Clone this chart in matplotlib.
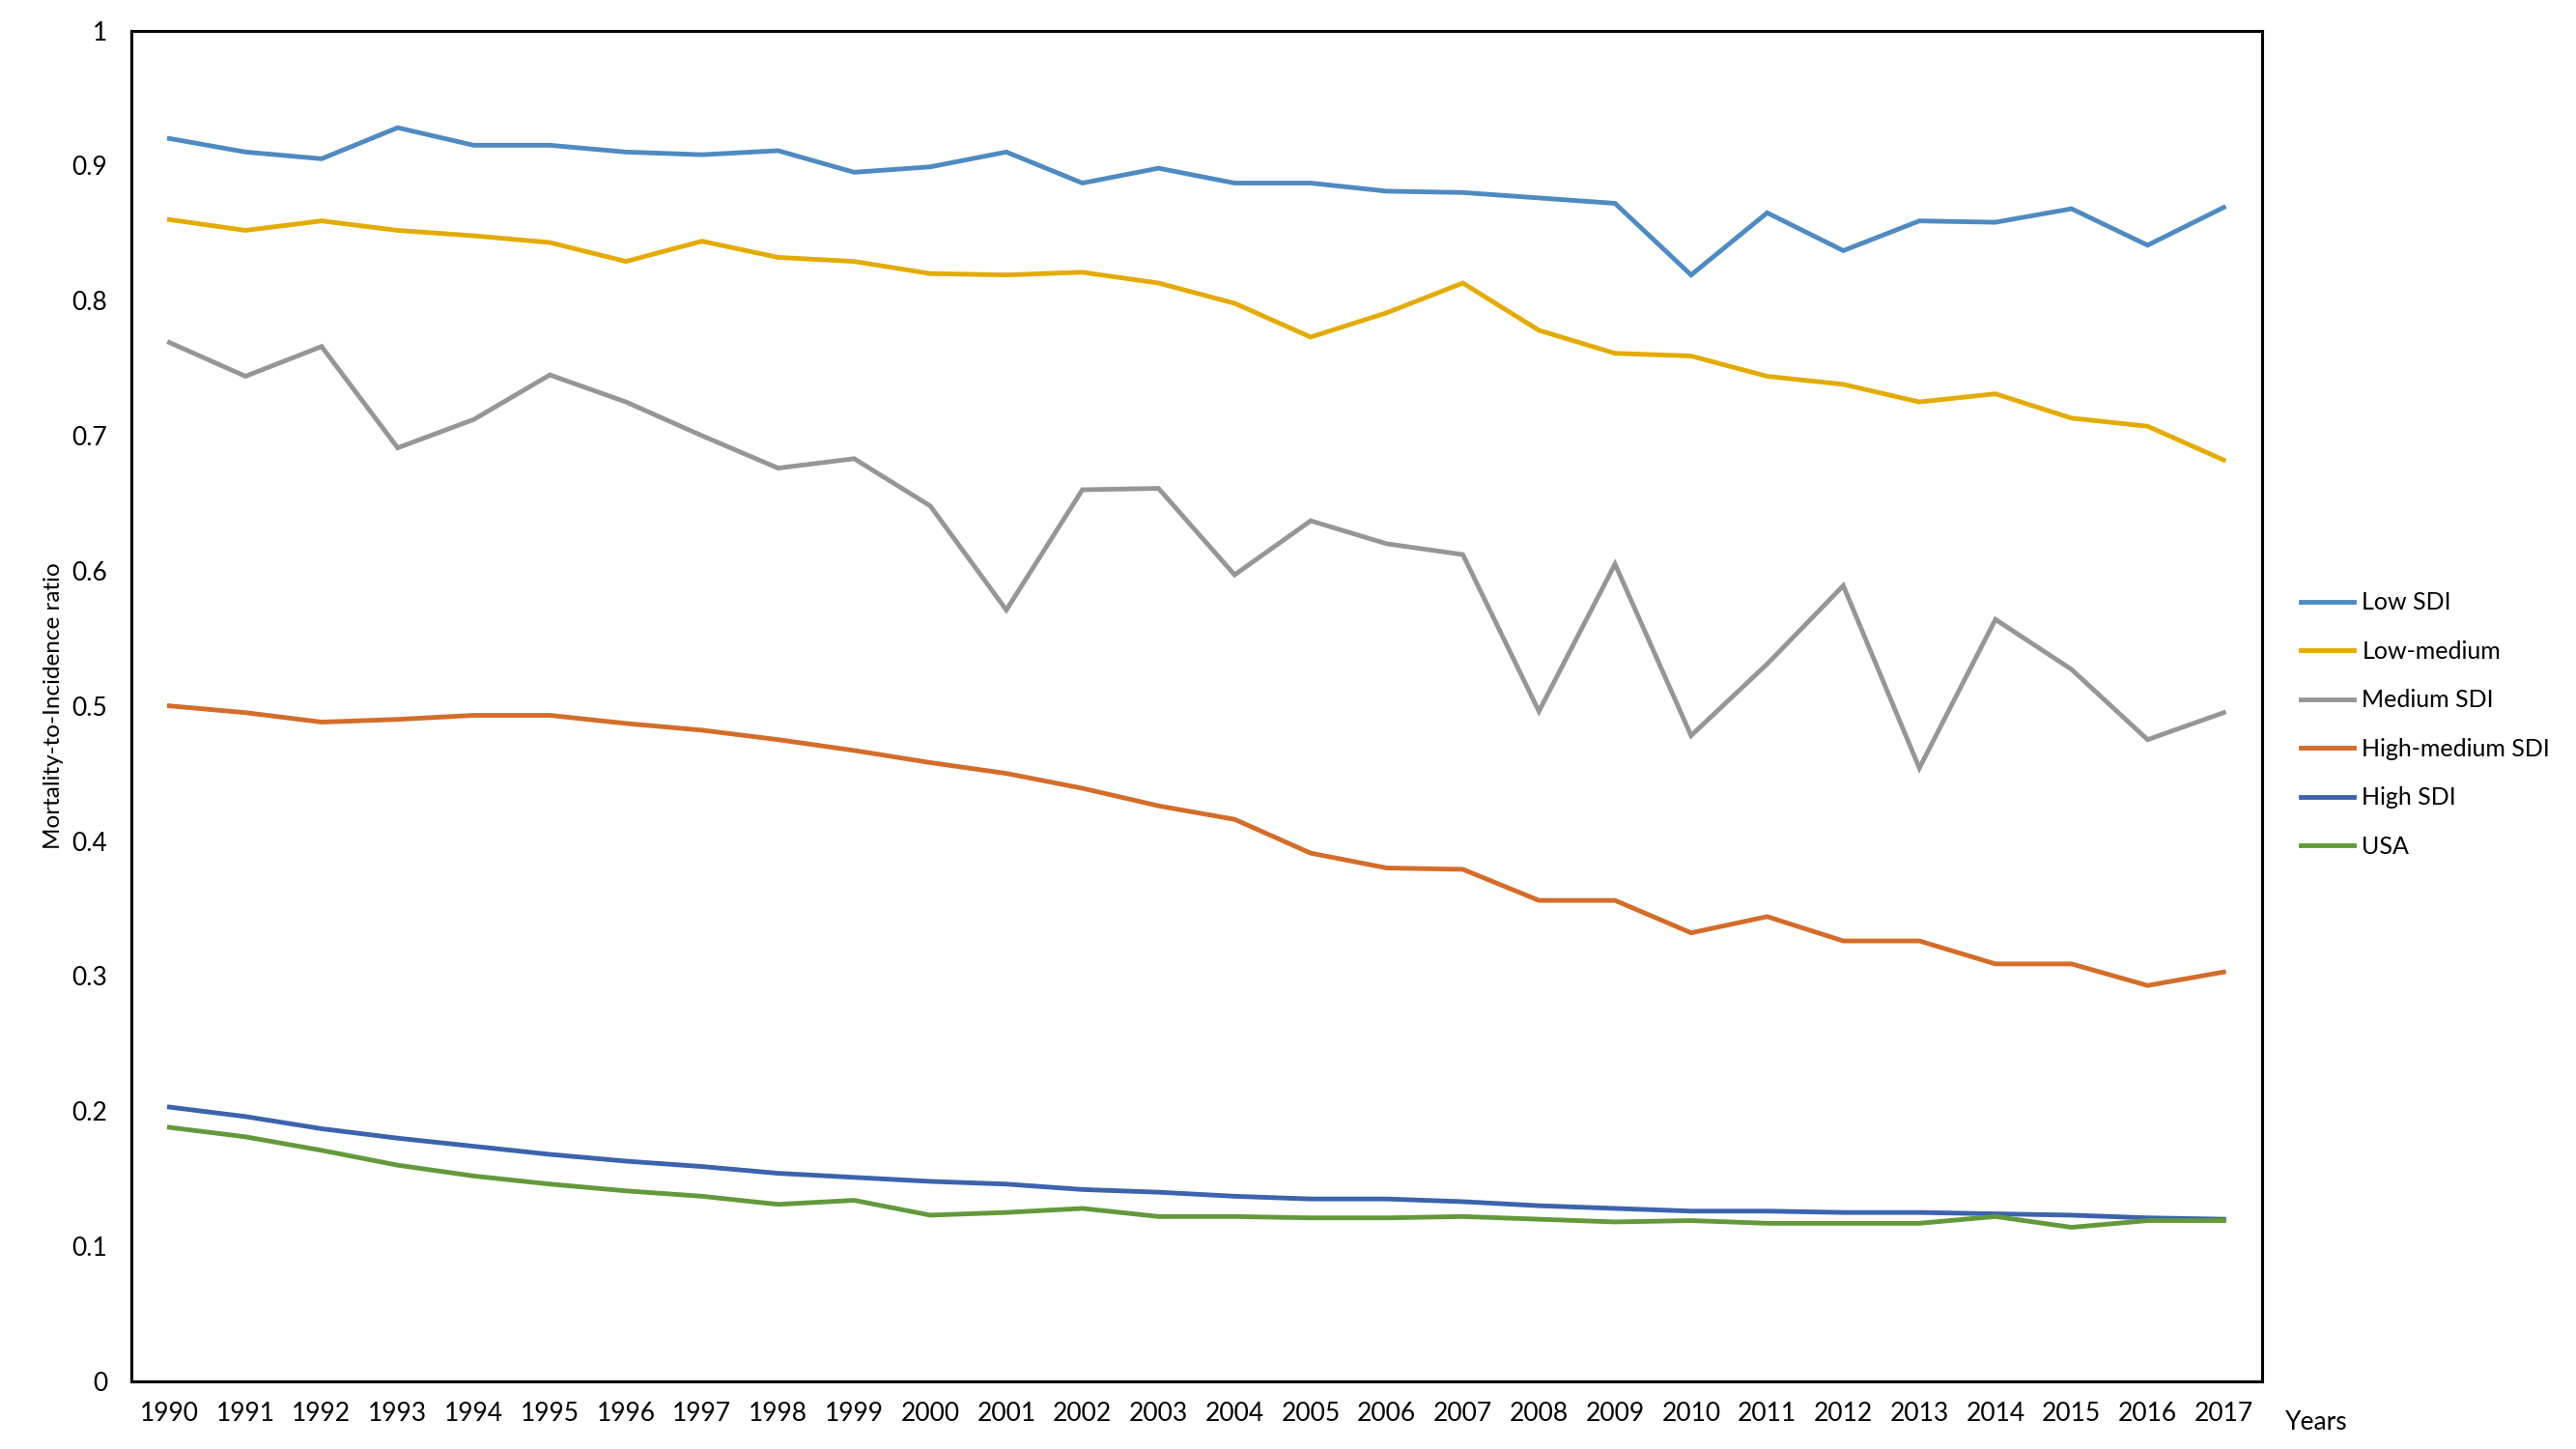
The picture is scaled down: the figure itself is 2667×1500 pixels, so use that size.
import matplotlib
matplotlib.use("Agg")
import matplotlib.pyplot as plt
import numpy as np

plt.rcParams['font.family'] = ['Lato', 'DejaVu Sans']

years = list(range(1990, 2018))

low_sdi = [0.920, 0.910, 0.905, 0.928, 0.915, 0.915, 0.910, 0.908, 0.911, 0.895,
           0.899, 0.910, 0.887, 0.898, 0.887, 0.887, 0.881, 0.880, 0.876, 0.872,
           0.819, 0.865, 0.837, 0.859, 0.858, 0.868, 0.841, 0.869]
low_medium = [0.860, 0.852, 0.859, 0.852, 0.848, 0.843, 0.829, 0.844, 0.832, 0.829,
              0.820, 0.819, 0.821, 0.813, 0.798, 0.773, 0.791, 0.813, 0.778, 0.761,
              0.759, 0.744, 0.738, 0.725, 0.731, 0.713, 0.707, 0.682]
medium_sdi = [0.769, 0.744, 0.766, 0.691, 0.712, 0.745, 0.725, 0.700, 0.676, 0.683,
              0.648, 0.571, 0.660, 0.661, 0.597, 0.637, 0.620, 0.612, 0.496, 0.605,
              0.478, 0.531, 0.589, 0.454, 0.564, 0.527, 0.475, 0.495]
high_medium = [0.500, 0.495, 0.488, 0.490, 0.493, 0.493, 0.487, 0.482, 0.475, 0.467,
               0.458, 0.450, 0.439, 0.426, 0.416, 0.391, 0.380, 0.379, 0.356, 0.356,
               0.332, 0.344, 0.326, 0.326, 0.309, 0.309, 0.293, 0.303]
high_sdi = [0.203, 0.196, 0.187, 0.180, 0.174, 0.168, 0.163, 0.159, 0.154, 0.151,
            0.148, 0.146, 0.142, 0.140, 0.137, 0.135, 0.135, 0.133, 0.130, 0.128,
            0.126, 0.126, 0.125, 0.125, 0.124, 0.123, 0.121, 0.120]
usa = [0.188, 0.181, 0.171, 0.160, 0.152, 0.146, 0.141, 0.137, 0.131, 0.134,
       0.123, 0.125, 0.128, 0.122, 0.122, 0.121, 0.121, 0.122, 0.120, 0.118,
       0.119, 0.117, 0.117, 0.117, 0.122, 0.114, 0.119, 0.119]

series = [("Low SDI", low_sdi, "#4F8AC0"),
          ("Low-medium", low_medium, "#E3AB00"),
          ("Medium SDI", medium_sdi, "#969696"),
          ("High-medium SDI", high_medium, "#D46C2A"),
          ("High SDI", high_sdi, "#3C63AC"),
          ("USA", usa, "#63993B")]

fig = plt.figure(figsize=(26.67, 15), dpi=100)
ax = fig.add_axes([0.051, 0.0467, 0.827, 0.9323])

x = np.arange(len(years))
for name, vals, col in series:
    ax.plot(x, vals, color=col, lw=3.5, label=name, solid_joinstyle='miter')

ax.set_xlim(-0.5, len(years) - 0.5)
ax.set_ylim(0, 1)
ax.set_xticks(x)
ax.set_xticklabels([str(y) for y in years])
ax.set_yticks(np.arange(0, 1.01, 0.1))
ax.set_yticklabels(['0', '0.1', '0.2', '0.3', '0.4', '0.5', '0.6', '0.7', '0.8', '0.9', '1'])
ax.tick_params(axis='both', length=0, labelsize=19)
ax.tick_params(axis='x', pad=15)
ax.tick_params(axis='y', pad=18)
for s in ax.spines.values():
    s.set_linewidth(2.2)
    s.set_color('black')

ax.set_ylabel('Mortality-to-Incidence ratio', fontsize=17.5, labelpad=6)
fig.text(0.887, 0.018, 'Years', fontsize=19, ha='left', va='center')

ax.legend(loc='center left', bbox_to_anchor=(0.893, 0.5), bbox_transform=fig.transFigure,
          frameon=False, fontsize=18, handlelength=2.2, handletextpad=0.35,
          labelspacing=1.1, borderpad=0, borderaxespad=0)

fig.savefig('out.png', dpi=100)
